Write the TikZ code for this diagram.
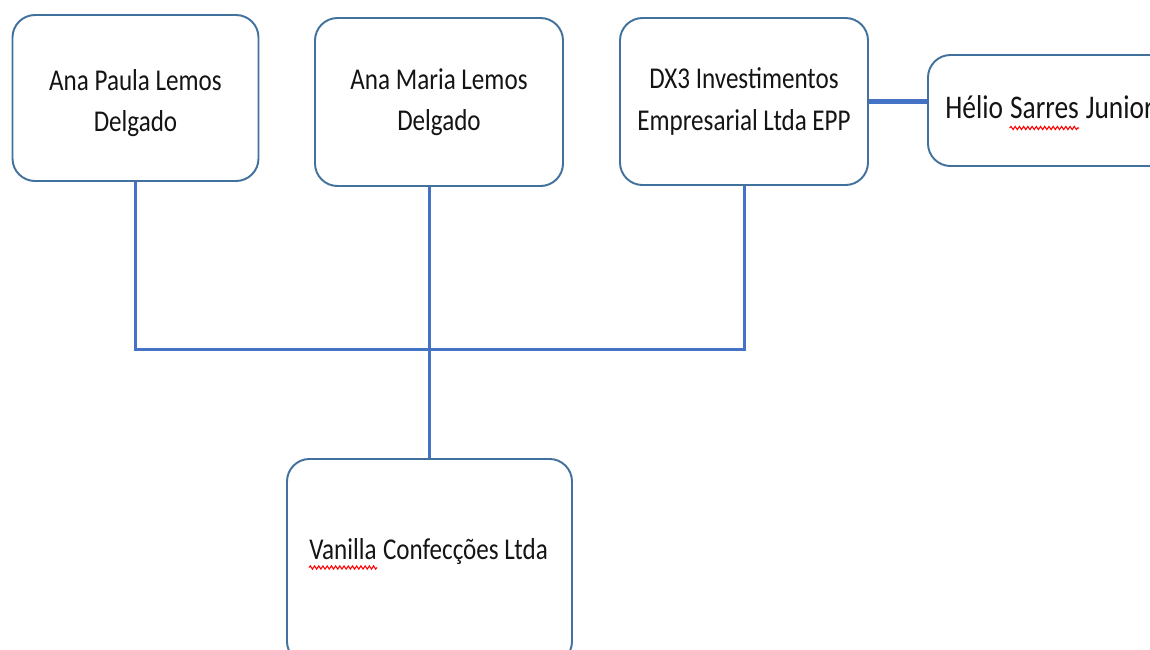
\documentclass[tikz,border=0pt]{standalone}
\usepackage{fontspec}
\setmainfont{Carlito}[FakeStretch=0.83]
\usepackage{xcolor}
\usetikzlibrary{positioning,calc,decorations.pathmorphing}

\definecolor{boxblue}{HTML}{41719C}
\definecolor{lineblue}{HTML}{4472C4}
\definecolor{inktext}{HTML}{141414}

\begin{document}
\begin{tikzpicture}[every node/.append style={align=center},
  box/.style={draw=boxblue, line width=1.1pt, rounded corners=0.45cm, text=inktext, font=\fontsize{17.2}{23.5}\selectfont},
  word/.style={inner sep=0pt, anchor=base west, text=inktext},
  conn/.style={draw=lineblue, line width=1.7pt},
  link/.style={draw=lineblue, line width=2.4pt},
  spell/.style={draw=red, line width=0.6pt, decorate, decoration={snake, segment length=2.4pt, amplitude=0.9pt}}]
    \useasboundingbox (0,0) rectangle (23,-12.98);
    \node [box, minimum width=4.92cm, minimum height=3.32cm] (AnaPaula) at (2.71,-1.96) {\rule{0pt}{0.62cm}Ana Paula Lemos\\Delgado};
    \node [box, minimum width=4.96cm, minimum height=3.36cm] (AnaMaria) at (8.78,-2.04) {Ana Maria Lemos\\Delgado};
    \node [box, minimum width=4.96cm, minimum height=3.34cm, font=\fontsize{17.2}{24}\selectfont] (DX3) at (14.88,-2.03) {DX3 Investimentos\\Empresarial Ltda EPP};
    \node [box, minimum width=5.16cm, minimum height=2.22cm] (Helio) at (21.14,-2.21) {};
    \node [box, anchor=north, minimum width=5.7cm, minimum height=4.1cm] (Vanilla) at (8.59,-9.16) {};
    % texts with a spelling mark
    \node [word, font=\fontsize{18.8}{24}\selectfont] (helioA) at (18.9,-2.36) {Hélio\ };
    \node [word, font=\fontsize{18.8}{24}\selectfont] (helioB) at (helioA.base east) {Sarres};
    \node [word, font=\fontsize{18.8}{24}\selectfont] (helioC) at (helioB.base east) {\ Junior};
    \node [word, font=\fontsize{17.2}{23}\selectfont] (vanA) at (6.18,-11.18) {Vanilla};
    \node [word, font=\fontsize{17.2}{23}\selectfont] (vanB) at (vanA.base east) {\ Confecções Ltda};
    \draw [spell] ($(helioB.base west)+(0,-0.2)$) -- ($(helioB.base east)+(0,-0.2)$);
    \draw [spell] ($(vanA.base west)+(0,-0.17)$) -- ($(vanA.base east)+(0,-0.17)$);
    % bus between the three owners
    \coordinate (bus) at (0,-6.98);
    \draw [conn] (AnaPaula.south) -- (AnaPaula.south |- bus) -- (DX3.south |- bus) -- (DX3.south);
    \draw [conn] (AnaMaria.south -| Vanilla.north) -- (Vanilla.north);
    \draw [link] (DX3.east) -- (DX3.east -| Helio.west);
\end{tikzpicture}
\end{document}
